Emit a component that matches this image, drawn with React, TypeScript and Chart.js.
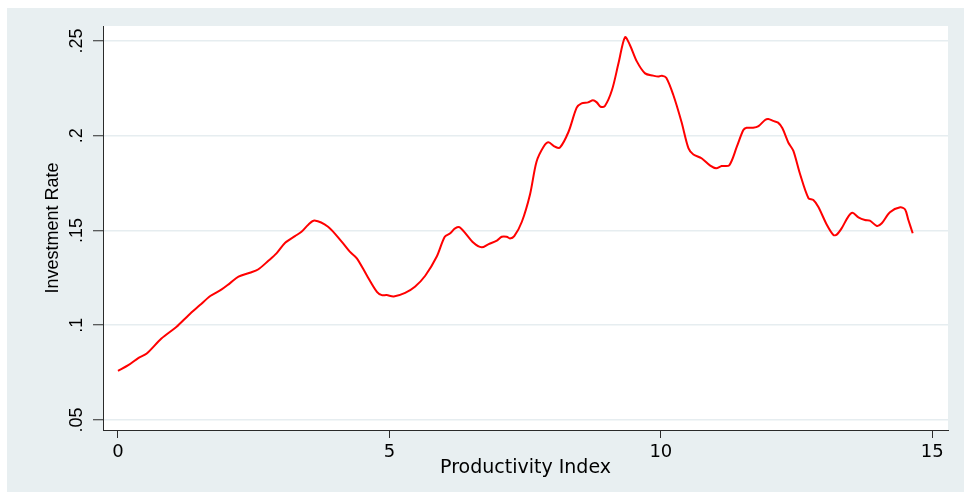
import React, { useEffect, useRef } from "react";
import { Chart, registerables } from "chart.js";

Chart.register(...registerables);

// Smoothed investment rate against the productivity index
const productivityIndex = [
  0.0, 0.19, 0.38, 0.53, 0.8, 1.08, 1.3, 1.51, 1.7, 1.91, 2.06, 2.22, 2.43, 2.58,
  2.77, 2.92, 3.08, 3.26, 3.38, 3.51, 3.62, 3.87, 4.12, 4.27, 4.4, 4.58, 4.77,
  4.86, 4.95, 5.08, 5.29, 5.47, 5.66, 5.87, 6.02, 6.12, 6.21, 6.3, 6.55, 6.7,
  6.82, 6.98, 7.07, 7.16, 7.22, 7.3, 7.44, 7.59, 7.71, 7.84, 7.93, 8.05, 8.14,
  8.3, 8.45, 8.54, 8.66, 8.75, 8.82, 8.89, 8.97, 9.1, 9.22, 9.34, 9.43, 9.56,
  9.71, 9.86, 9.95, 10.02, 10.1, 10.23, 10.38, 10.51, 10.6, 10.75, 10.91, 11.02,
  11.12, 11.26, 11.4, 11.52, 11.58, 11.7, 11.8, 11.92, 11.98, 12.07, 12.16,
  12.24, 12.35, 12.44, 12.56, 12.72, 12.81, 12.9, 13.06, 13.18, 13.24, 13.33,
  13.45, 13.53, 13.64, 13.76, 13.85, 13.98, 14.07, 14.22, 14.41, 14.5, 14.56,
  14.64,
];

const investmentRate = [
  0.0759, 0.0789, 0.0828, 0.0851, 0.093, 0.0992, 0.1053, 0.1106, 0.1154, 0.1189,
  0.1221, 0.1256, 0.1277, 0.1294, 0.134, 0.1379, 0.1435, 0.147, 0.1493, 0.1532,
  0.1553, 0.152, 0.1441, 0.1388, 0.1353, 0.1265, 0.1176, 0.1159, 0.1159, 0.1152,
  0.1171, 0.1203, 0.1261, 0.1361, 0.1467, 0.1485, 0.1511, 0.1516, 0.1435,
  0.1411, 0.1427, 0.1446, 0.1467, 0.1467, 0.1458, 0.147, 0.1546, 0.169, 0.1863,
  0.1942, 0.1965, 0.1942, 0.1937, 0.2021, 0.2148, 0.2171, 0.2176, 0.2187,
  0.2176, 0.2153, 0.2157, 0.2241, 0.2382, 0.252, 0.2479, 0.2391, 0.2329, 0.2317,
  0.2312, 0.2317, 0.2306, 0.2215, 0.2074, 0.1933, 0.1901, 0.1881, 0.1842,
  0.1828, 0.184, 0.1844, 0.1942, 0.203, 0.2042, 0.2042, 0.2051, 0.2083, 0.2088,
  0.2078, 0.2069, 0.2039, 0.1963, 0.1921, 0.1802, 0.167, 0.1661, 0.1625, 0.1529,
  0.1476, 0.1478, 0.1511, 0.1572, 0.1593, 0.1569, 0.1555, 0.1552, 0.1524,
  0.1538, 0.1596, 0.1622, 0.1611, 0.1555, 0.1485,
];

const xTickValues = [0, 5, 10, 15];
const xTickLabels = ["0", "5", "10", "15"];
const yTickValues = [0.05, 0.1, 0.15, 0.2, 0.25];
const yTickLabels = [".05", ".1", ".15", ".2", ".25"];

const xTitle = "Productivity Index";
const yTitle = "Investment Rate";

const CANVAS_W = 957;
const CANVAS_H = 484;

const REGION_COLOR = "#e8eff1";
const PLOT_COLOR = "#ffffff";
const GRID_COLOR = "#e6edf0";
const AXIS_COLOR = "#2a2a2a";

// Paints the outer graph region and the white plot region behind everything
const backgroundPlugin = {
  id: "regionBackground",
  beforeDraw(chart: Chart) {
    const { ctx, chartArea } = chart;
    ctx.save();
    ctx.fillStyle = REGION_COLOR;
    ctx.fillRect(0, 0, chart.width, chart.height);
    ctx.fillStyle = PLOT_COLOR;
    ctx.fillRect(
      chartArea.left,
      chartArea.top,
      chartArea.right - chartArea.left,
      chartArea.bottom - chartArea.top
    );
    ctx.restore();
  },
};

export default function App() {
  const canvasRef = useRef<HTMLCanvasElement | null>(null);

  useEffect(() => {
    const canvas = canvasRef.current;
    if (!canvas) return;

    const points = productivityIndex.map((x, i) => ({ x, y: investmentRate[i] }));

    const chart = new Chart(canvas, {
      type: "line",
      data: {
        datasets: [
          {
            data: points,
            borderColor: "#ff0000",
            borderWidth: 2,
            pointRadius: 0,
            tension: 0.3,
            fill: false,
          },
        ],
      },
      options: {
        animation: false,
        responsive: false,
        events: [],
        layout: { padding: { top: 18, right: 16, left: 0, bottom: 0 } },
        plugins: {
          legend: { display: false },
          tooltip: { enabled: false },
        },
        scales: {
          x: {
            type: "linear",
            min: -0.276,
            max: 15.29,
            afterBuildTicks: (scale: any) => {
              scale.ticks = xTickValues.map((value) => ({ value }));
            },
            afterFit: (scale: any) => {
              scale.height = 62;
            },
            ticks: {
              autoSkip: false,
              maxRotation: 0,
              minRotation: 0,
              padding: 4,
              color: "#000000",
              font: { family: "'DejaVu Sans'", size: 18 },
              callback: (value: any) => xTickLabels[xTickValues.indexOf(Number(value))] ?? "",
            },
            grid: {
              drawOnChartArea: false,
              drawTicks: true,
              tickLength: 8,
              tickColor: AXIS_COLOR,
              tickWidth: 1,
            },
            border: { display: true, color: AXIS_COLOR, width: 1 },
            title: {
              display: true,
              text: xTitle,
              color: "#000000",
              font: { family: "'DejaVu Sans'", size: 19 },
              padding: { top: 0, bottom: 13 },
            },
          },
          y: {
            type: "linear",
            min: 0.0447,
            max: 0.2579,
            afterBuildTicks: (scale: any) => {
              scale.ticks = yTickValues.map((value) => ({ value }));
            },
            afterFit: (scale: any) => {
              scale.width = 96;
            },
            ticks: {
              autoSkip: false,
              minRotation: 90,
              maxRotation: 90,
              crossAlign: "center",
              padding: 3,
              color: "#000000",
              font: { family: "'Liberation Sans', Arial", size: 18 },
              callback: (value: any) => {
                const idx = yTickValues.findIndex((v) => Math.abs(v - Number(value)) < 1e-9);
                return idx >= 0 ? yTickLabels[idx] : "";
              },
            },
            grid: {
              color: GRID_COLOR,
              lineWidth: 1.5,
              drawTicks: true,
              tickLength: 10,
              tickColor: AXIS_COLOR,
              tickWidth: 1,
            },
            border: { display: true, color: AXIS_COLOR, width: 1 },
            title: {
              display: true,
              text: yTitle,
              color: "#000000",
              font: { family: "'Liberation Sans', Arial", size: 18 },
              padding: { top: 35, bottom: 0 },
            },
          },
        },
      },
      plugins: [backgroundPlugin],
    });

    return () => chart.destroy();
  }, []);

  return (
    <div
      style={{
        position: "fixed",
        left: 7,
        top: 8,
        width: CANVAS_W,
        height: CANVAS_H,
      }}
    >
      <canvas
        ref={canvasRef}
        width={CANVAS_W}
        height={CANVAS_H}
        style={{ display: "block", width: CANVAS_W, height: CANVAS_H }}
      />
    </div>
  );
}
